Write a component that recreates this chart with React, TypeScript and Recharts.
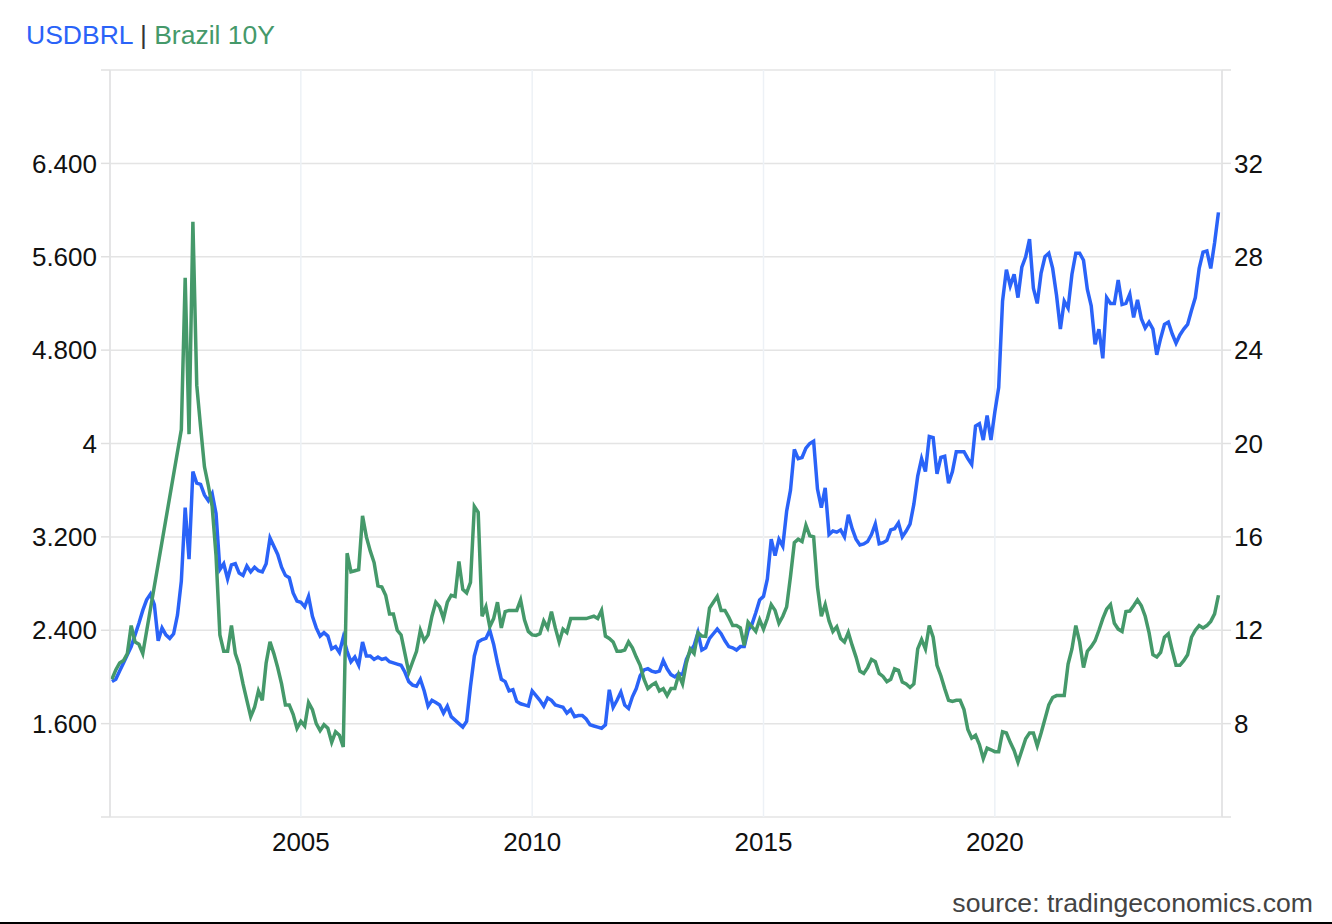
import React from 'react';
import { LineChart, Line, XAxis, YAxis, CartesianGrid } from 'recharts';

// monthly points, first one is Dec 2000
const startYear = 2000;
const startMonth = 11; // 0-based, December

// USDBRL, Dec 2000 .. Nov 2024
const usdbrl = [
  1.96,
  1.98, 2.05, 2.12, 2.19, 2.26, 2.36, 2.46, 2.57, 2.66, 2.71, 2.62, 2.31,
  2.42, 2.36, 2.33, 2.37, 2.53, 2.82, 3.45, 3.01, 3.76, 3.66, 3.65, 3.56,
  3.51, 3.57, 3.40, 2.92, 2.97, 2.84, 2.96, 2.97, 2.89, 2.87, 2.95, 2.90,
  2.94, 2.91, 2.90, 2.97, 3.19, 3.12, 3.05, 2.94, 2.87, 2.85, 2.72, 2.65,
  2.64, 2.60, 2.69, 2.52, 2.42, 2.35, 2.38, 2.35, 2.24, 2.26, 2.21, 2.34,
  2.22, 2.13, 2.17, 2.10, 2.30, 2.18, 2.18, 2.15, 2.17, 2.15, 2.16, 2.13,
  2.12, 2.11, 2.10, 2.04, 1.96, 1.93, 1.92, 1.98, 1.88, 1.75, 1.80, 1.78,
  1.76, 1.69, 1.75, 1.66, 1.63, 1.60, 1.57, 1.62, 1.92, 2.18, 2.30, 2.32,
  2.33, 2.40, 2.28, 2.12, 1.98, 1.96, 1.88, 1.89, 1.79, 1.77, 1.76, 1.75,
  1.88, 1.84, 1.80, 1.75, 1.82, 1.80, 1.76, 1.75, 1.74, 1.69, 1.72, 1.66,
  1.67, 1.67, 1.64, 1.59, 1.58, 1.57, 1.56, 1.59, 1.89, 1.74, 1.80, 1.87,
  1.76, 1.73, 1.83, 1.90, 2.01, 2.06, 2.07, 2.05, 2.04, 2.05, 2.14, 2.07,
  2.02, 2.00, 2.03, 2.02, 2.15, 2.22, 2.27, 2.38, 2.23, 2.25, 2.33, 2.37,
  2.41, 2.37, 2.31, 2.26, 2.25, 2.23, 2.26, 2.26, 2.40, 2.45, 2.55, 2.66,
  2.69, 2.84, 3.18, 3.04, 3.18, 3.12, 3.42, 3.60, 3.95, 3.87, 3.88, 3.96,
  4.00, 4.02, 3.61, 3.45, 3.62, 3.22, 3.25, 3.24, 3.26, 3.20, 3.39, 3.27,
  3.18, 3.13, 3.14, 3.16, 3.22, 3.31, 3.14, 3.15, 3.17, 3.26, 3.27, 3.32,
  3.20, 3.25, 3.31, 3.48, 3.72, 3.87, 3.76, 4.06, 4.05, 3.74, 3.88, 3.89,
  3.66, 3.76, 3.93, 3.93, 3.93, 3.87, 3.82, 4.15, 4.17, 4.03, 4.24, 4.03,
  4.27, 4.48, 5.22, 5.49, 5.35, 5.45, 5.25, 5.51, 5.60, 5.75, 5.33, 5.20,
  5.46, 5.60, 5.63, 5.50, 5.27, 4.98, 5.22, 5.16, 5.45, 5.63, 5.63, 5.57,
  5.32, 5.18, 4.85, 4.98, 4.73, 5.25, 5.20, 5.20, 5.40, 5.19, 5.20, 5.28,
  5.08, 5.23, 5.07, 4.99, 5.04, 4.98, 4.76, 4.90, 5.02, 5.04, 4.94, 4.86,
  4.93, 4.98, 5.02, 5.14, 5.25, 5.50, 5.64, 5.65, 5.50, 5.72, 5.98
];

// Brazil 10Y, same months (null = no quote, line is joined across the gap)
const brazil10y = [
  9.9,
  10.3, 10.6, 10.7, 11.0, 12.2, 11.5, 11.4, 11.0, null, null, null, null,
  null, null, null, null, null, 20.6, 27.1, 20.4, 29.5, 22.5, 20.7, 19.0,
  18.2, 17.3, 15.2, 11.8, 11.1, 11.1, 12.2, 11.0, 10.5, 9.7, 9.0, 8.3,
  8.7, 9.4, 9.0, 10.6, 11.5, 11.0, 10.4, 9.7, 8.8, 8.8, 8.4, 7.8,
  8.1, 7.9, 8.9, 8.6, 8.0, 7.7, 7.95, 7.8, 7.2, 7.65, 7.5, 7.0,
  15.3, 14.5, 14.55, 14.6, 16.9, 16.0, 15.4, 14.9, 13.9, 13.85, 13.5, 12.7,
  12.7, 12.0, 11.8, 11.0, 10.2, 10.65, 11.1, 12.0, 11.55, 11.8, 12.6, 13.2,
  13.0, 12.5, 13.2, 13.5, 13.45, 14.95, 13.75, 13.6, 14.05, 17.3, 17.05, 12.6,
  13.0, 12.15, 12.5, 13.2, 12.1, 12.8, 12.85, 12.85, 12.85, 13.3, 12.45, 11.95,
  11.8, 11.78, 11.85, 12.4, 12.1, 12.8, 12.1, 11.5, 12.05, 11.9, 12.5, 12.5,
  12.5, 12.5, 12.5, 12.55, 12.6, 12.5, 12.85, 11.75, 11.65, 11.5, 11.1, 11.1,
  11.15, 11.5, 11.25, 10.85, 10.5, 9.9, 9.5, 9.65, 9.75, 9.4, 9.5, 9.2,
  9.5, 9.5, 10.1, 9.7, 10.6, 11.2, 11.0, 11.9, 11.75, 11.74, 12.95, 13.2,
  13.45, 12.85, 12.85, 12.55, 12.2, 12.2, 12.1, 11.35, 12.35, 12.15, 11.95, 12.45,
  12.05, 12.5, 13.1, 12.85, 12.3, 12.6, 13.0, 14.3, 15.75, 15.9, 15.8, 16.5,
  16.05, 16.0, 13.85, 12.6, 13.1, 12.4, 11.95, 12.15, 11.65, 11.5, 11.9, 11.35,
  10.85, 10.25, 10.15, 10.4, 10.75, 10.65, 10.15, 10.02, 9.8, 9.9, 10.35, 10.28,
  9.78, 9.7, 9.55, 9.7, 11.2, 11.6, 11.2, 12.2, 11.7, 10.5, 10.05, 9.5,
  9.0, 8.95, 9.0, 9.0, 8.6, 7.75, 7.38, 7.5, 7.1, 6.5, 6.95, 6.88,
  6.8, 6.8, 7.65, 7.6, 7.2, 6.85, 6.35, 6.85, 7.35, 7.6, 7.6, 7.05,
  7.6, 8.2, 8.8, 9.12, 9.2, 9.2, 9.2, 10.55, 11.2, 12.2, 11.5, 10.4,
  11.1, 11.3, 11.55, 12.0, 12.5, 12.9, 13.1, 12.3, 12.05, 11.95, 12.8, 12.82,
  13.05, 13.3, 13.05, 12.6, 11.9, 10.95, 10.85, 11.05, 11.7, 11.85, 11.15, 10.5,
  10.5, 10.7, 10.95, 11.7, 12.0, 12.2, 12.1, 12.2, 12.38, 12.7, 13.5
];

const yearTicks = [2005, 2010, 2015, 2020];
const leftTicks = [0.8, 1.6, 2.4, 3.2, 4, 4.8, 5.6, 6.4, 7.2];
const rightTicks = [4, 8, 12, 16, 20, 24, 28, 32, 36];

const data = usdbrl.map((v, i) => ({
  t: startYear + (startMonth + i) / 12,
  usdbrl: v,
  brazil10y: brazil10y[i]
}));

const BLUE = '#2a63f8';
const GREEN = '#45996a';
const FONT = '"Liberation Sans", Arial, sans-serif';

const fmtLeft = (v: number) => {
  if (v === 0.8 || v === 7.2) return '';
  return Number.isInteger(v) ? String(v) : v.toFixed(3);
};
const fmtRight = (v: number) => (v === 4 || v === 36 ? '' : String(v));

const tickStyle = { fontSize: 26, fill: '#111', fontFamily: FONT };

export default function App() {
  return (
    <div style={{ position: 'absolute', left: 0, top: 0, width: 1332, height: 924, background: '#fff', fontFamily: FONT }}>
      <div style={{ position: 'absolute', left: 26, top: 20, fontSize: 26.5, lineHeight: '30px', whiteSpace: 'nowrap' }}>
        <span style={{ color: BLUE }}>USDBRL</span>
        <span style={{ color: '#333' }}> | </span>
        <span style={{ color: GREEN }}>Brazil 10Y</span>
      </div>

      <div style={{ position: 'absolute', left: 0, top: 0 }}>
        <LineChart width={1332} height={870} data={data} margin={{ top: 70, right: 30, left: 30, bottom: 13 }}>
          {/* horizontal grid: grey, vertical grid: faint blue-grey */}
          <CartesianGrid yAxisId="left" vertical={false} stroke="#e4e4e4" strokeWidth={1.5} />
          <CartesianGrid yAxisId="left" horizontal={false} stroke="#edf1f6" strokeWidth={1.5} />
          <XAxis
            dataKey="t"
            type="number"
            domain={[2000.875, 2024.91]}
            ticks={yearTicks}
            allowDataOverflow
            axisLine={false}
            tickLine={false}
            tickMargin={10}
            height={40}
            tick={tickStyle}
          />
          <YAxis
            yAxisId="left"
            orientation="left"
            domain={[0.8, 7.2]}
            ticks={leftTicks}
            tickFormatter={fmtLeft}
            width={80}
            tickSize={9}
            tickMargin={4}
            axisLine={{ stroke: '#e0e0e0', strokeWidth: 1.5 }}
            tickLine={{ stroke: '#e0e0e0', strokeWidth: 1.5 }}
            tick={tickStyle}
            interval={0}
          />
          <YAxis
            yAxisId="right"
            orientation="right"
            domain={[4, 36]}
            ticks={rightTicks}
            tickFormatter={fmtRight}
            width={80}
            tickSize={9}
            tickMargin={3}
            axisLine={{ stroke: '#e0e0e0', strokeWidth: 1.5 }}
            tickLine={{ stroke: '#e0e0e0', strokeWidth: 1.5 }}
            tick={tickStyle}
            interval={0}
          />
          <Line
            yAxisId="left"
            type="linear"
            dataKey="usdbrl"
            stroke={BLUE}
            strokeWidth={3.5}
            dot={false}
            isAnimationActive={false}
          />
          <Line
            yAxisId="right"
            type="linear"
            dataKey="brazil10y"
            stroke={GREEN}
            strokeWidth={3.5}
            dot={false}
            connectNulls
            isAnimationActive={false}
          />
        </LineChart>
      </div>

      <div style={{ position: 'absolute', right: 19, top: 888, fontSize: 26.6, lineHeight: '30px', color: '#444' }}>
        source: tradingeconomics.com
      </div>
      <div style={{ position: 'absolute', left: 0, top: 922, width: 1332, height: 2, background: '#000' }} />
    </div>
  );
}
